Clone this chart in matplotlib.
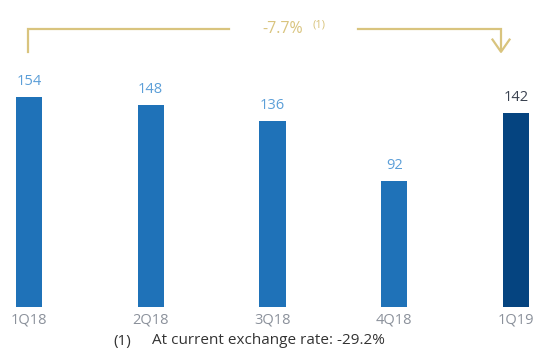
import matplotlib.pyplot as plt

quarters = ["1Q18", "2Q18", "3Q18", "4Q18", "1Q19"]
values = [154, 148, 136, 92, 142]
change_label = "-7.7%"
note_ref = "(1)"
note_mark = "(1)"
note_text = "At current exchange rate: -29.2%"

plt.rcParams["font.family"] = ["Open Sans", "DejaVu Sans"]

BAR = "#1f72b8"
BAR_LAST = "#054480"
LABEL = "#5c9fd8"
LABEL_LAST = "#3a4250"
GOLD = "#d9c47e"
GREY = "#8b919b"

fig = plt.figure(figsize=(5.34, 3.54), dpi=100)
ax = fig.add_axes([0, 47 / 354, 1, 307 / 354])

xs = list(range(len(quarters)))
colors = [BAR] * (len(values) - 1) + [BAR_LAST]
ax.bar(xs, values, width=0.215, color=colors)

for x, v, c in zip(xs, values, [LABEL] * 4 + [LABEL_LAST]):
    ax.text(x, v + 6, str(v), ha="center", va="bottom", fontsize=10.5, color=c)

ax.set_xlim(-0.238, 4.148)
ax.set_ylim(0, 225)
ax.set_xticks(xs)
ax.set_xticklabels(quarters, fontsize=10.5, color=GREY)
ax.tick_params(axis="x", length=0, pad=4)
ax.set_yticks([])
for s in ax.spines.values():
    s.set_visible(False)

# bracket showing the year-on-year change
x0, x1 = -0.01, 3.877
y_low, y_top = 187, 204
ax.plot([x0, x0, 1.645], [y_low, y_top, y_top], color=GOLD, lw=1.6,
        solid_joinstyle="miter", clip_on=False)
ax.plot([2.705, x1, x1], [y_top, y_top, y_low + 2], color=GOLD, lw=1.6,
        solid_joinstyle="miter", clip_on=False)
ax.plot([x1 - 0.07, x1, x1 + 0.07], [y_low + 9, y_low, y_low + 9],
        color=GOLD, lw=1.6, clip_on=False)
ax.text(2.08, y_top, change_label, ha="center", va="center",
        fontsize=11.5, color=GOLD)
ax.text(2.325, y_top + 2.5, note_ref, ha="left", va="center",
        fontsize=8, color=GOLD)

fig.text(113 / 534, 1 - 341 / 354, note_mark, ha="left", va="center",
         fontsize=11, color="#333333")
fig.text(152 / 534, 1 - 341 / 354, note_text, ha="left", va="center",
         fontsize=11, color="#333333")

fig.savefig("out.png", dpi=100)
